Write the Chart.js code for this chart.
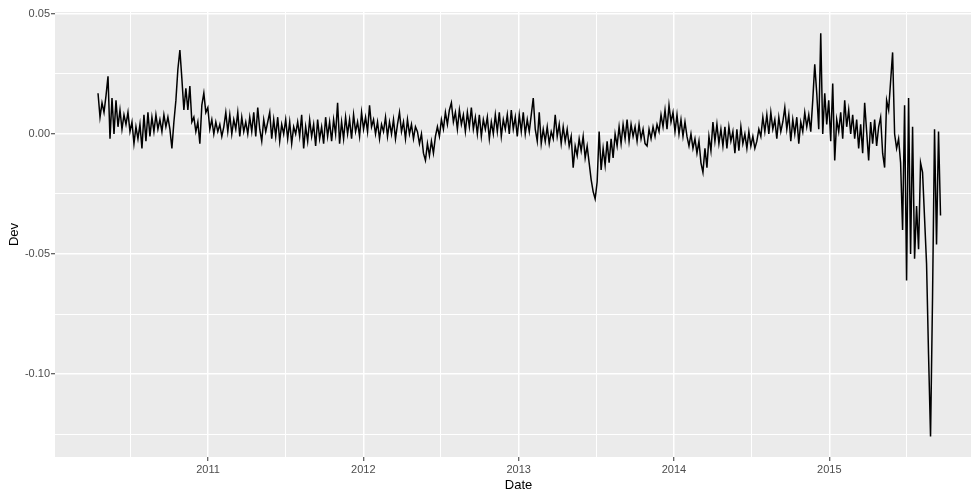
<!DOCTYPE html>
<html>
<head>
<meta charset="utf-8">
<title>Dev</title>
<script src="https://cdn.jsdelivr.net/npm/chart.js@4/dist/chart.umd.min.js"></script>
<style>
  html, body { margin: 0; padding: 0; background: #ffffff; overflow: hidden; }
  #wrap { width: 982px; height: 492px; }
</style>
</head>
<body>
<div id="wrap"><canvas id="chart" width="982" height="492"></canvas></div>
<script>
// Deviation series, sampled evenly between the first and last date (decimal years)
const firstDate = 2010.292;
const lastDate = 2015.716;

const dev = [
  0.017, 0.007, 0.013, 0.009, 0.016,   0.024, -0.002, 0.015, 0.000, 0.014,
  0.003, 0.010, 0.002, 0.008, 0.004,   0.009, 0.001, 0.005, -0.004, 0.003,
  -0.002, 0.004, -0.006, 0.008, -0.003, 0.009, -0.001, 0.007, 0.001, 0.008,
  0.002, 0.006, 0.001, 0.008, 0.003,   0.007, 0.002, -0.006, 0.005, 0.014,
  0.027, 0.035, 0.023, 0.010, 0.019,   0.010, 0.020, 0.005, 0.007, 0.001,
  0.005, -0.004, 0.012, 0.017, 0.009,  0.011, 0.002, 0.006, 0.000, 0.005,
  0.001, 0.004, -0.001, 0.003, 0.009,  0.001, 0.008, 0.000, 0.006, 0.002,
  0.009, -0.001, 0.007, 0.001, 0.005,  0.000, 0.007, 0.001, 0.009, -0.001,
  0.011, 0.002, -0.003, 0.006, 0.001,  0.005, 0.009, -0.002, 0.006, -0.001,
  0.007, -0.003, 0.004, 0.000, 0.006,  -0.002, 0.005, -0.004, 0.003, 0.000,
  0.005, -0.001, 0.008, -0.006, 0.003, -0.003, 0.006, -0.001, 0.004, -0.005,
  0.006, -0.002, 0.003, -0.004, 0.007, -0.001, 0.005, -0.003, 0.006, 0.000,
  0.013, -0.004, 0.005, -0.002, 0.007, 0.000, 0.006, -0.002, 0.008, 0.001,
  0.005, -0.001, 0.009, 0.002, 0.007,  0.001, 0.012, 0.003, 0.006, 0.000,
  0.005, -0.002, 0.004, 0.001, 0.007,  -0.001, 0.005, 0.000, 0.006, -0.002,
  0.004, 0.009, 0.001, 0.005, -0.002,  0.006, 0.000, 0.004, -0.002, 0.003,
  0.001, -0.004, 0.000, -0.008, -0.011, -0.004, -0.009, -0.003, -0.008, -0.001,
  0.003, -0.001, 0.006, 0.002, 0.009,  0.004, 0.010, 0.013, 0.005, 0.009,
  0.002, 0.010, 0.004, 0.008, 0.001,   0.009, 0.003, 0.011, 0.002, 0.007,
  0.000, 0.008, -0.001, 0.006, 0.002,  0.007, -0.002, 0.005, 0.000, 0.008,
  0.001, 0.009, -0.001, 0.006, 0.002,  0.008, 0.000, 0.010, 0.002, 0.007,
  -0.001, 0.008, 0.001, 0.009, 0.000,  0.006, 0.001, 0.008, 0.015, 0.002,
  -0.003, 0.009, -0.004, 0.002, -0.003, 0.003, -0.004, 0.001, -0.002, 0.008,
  -0.001, 0.004, -0.004, 0.003, -0.003, 0.002, -0.005, -0.001, -0.014, -0.005,
  -0.009, -0.002, -0.007, -0.001, -0.010, -0.005, -0.012, -0.019, -0.024, -0.027,
  -0.020, 0.001, -0.015, -0.006, -0.013, -0.003, -0.012, -0.002, -0.010, 0.000,
  -0.005, 0.003, -0.004, 0.004, -0.002, 0.006, -0.003, 0.004, -0.001, 0.003,
  -0.003, 0.004, -0.002, 0.002, -0.004, -0.005, 0.002, -0.002, 0.003, -0.001,
  0.004, 0.001, 0.008, 0.003, 0.010,   0.002, 0.012, 0.005, 0.009, 0.001,
  0.008, 0.000, 0.006, -0.001, 0.005,  -0.001, -0.005, 0.000, -0.006, -0.002,
  -0.008, -0.003, -0.012, -0.016, -0.006, -0.014, -0.001, -0.007, 0.005, -0.003,
  0.004, -0.004, 0.002, -0.005, 0.003, -0.006, 0.003, -0.003, 0.001, -0.008,
  0.002, -0.007, 0.003, -0.004, 0.000, -0.006, 0.001, -0.005, -0.001, -0.006,
  -0.003, 0.002, -0.001, 0.007, 0.001, 0.008, 0.000, 0.009, 0.002, 0.006,
  -0.002, 0.007, 0.001, 0.005, 0.011,  0.002, 0.008, -0.003, 0.006, 0.000,
  0.007, -0.004, 0.005, 0.001, 0.009,  0.003, 0.008, 0.001, 0.014, 0.029,
  0.017, 0.002, 0.042, 0.000, 0.017,   0.004, 0.014, -0.003, 0.021, -0.011,
  0.006, 0.001, 0.009, -0.002, 0.014,  0.003, 0.010, 0.000, 0.008, -0.002,
  0.006, -0.006, 0.004, -0.008, 0.013, 0.001, -0.011, 0.005, -0.004, 0.006,
  -0.005, 0.003, 0.007, -0.008, -0.014, 0.014, 0.010, 0.022, 0.034, 0.000,
  -0.006, -0.002, -0.012, -0.040, 0.012, -0.061, 0.015, -0.050, 0.003, -0.052,
  -0.030, -0.048, -0.012, -0.016, -0.035, -0.054, -0.092, -0.126, -0.068, 0.002,
  -0.046, 0.001, -0.034
];

const dates = dev.map((_, i) => firstDate + i * (lastDate - firstDate) / (dev.length - 1));

const yearTicks = [2011, 2012, 2013, 2014, 2015];
const devTicks = [-0.10, -0.05, 0.00, 0.05];

const xRange = { min: 2010.015, max: 2015.983 };
const yRange = { min: -0.13458, max: 0.05083 };

const isYearTick = v => yearTicks.some(t => Math.abs(t - v) < 1e-6);
const isDevTick = v => devTicks.some(t => Math.abs(t - v) < 1e-6);

const fontFamily = '"Liberation Sans", Arial, Helvetica, sans-serif';

// grey panel behind the grid
const panelBackground = {
  id: 'panelBackground',
  beforeDraw(chart) {
    const { ctx, chartArea: a } = chart;
    ctx.save();
    ctx.fillStyle = '#EBEBEB';
    ctx.fillRect(a.left, a.top, a.right - a.left, a.bottom - a.top);
    ctx.restore();
  }
};

new Chart(document.getElementById('chart'), {
  type: 'line',
  data: {
    datasets: [{
      data: dates.map((d, i) => ({ x: d, y: dev[i] })),
      borderColor: '#000000',
      borderWidth: 1.5,
      pointRadius: 0,
      tension: 0,
      fill: false
    }]
  },
  options: {
    responsive: false,
    animation: false,
    devicePixelRatio: 1,
    layout: { padding: { top: 12, right: 0, bottom: 0, left: 0 } },
    plugins: { legend: { display: false }, tooltip: { enabled: false } },
    scales: {
      x: {
        type: 'linear',
        min: xRange.min,
        max: xRange.max,
        afterFit(scale) { scale.height = 35; },
        border: { display: false },
        grid: {
          color: '#FFFFFF',
          lineWidth: ctx => (ctx.tick && isYearTick(ctx.tick.value)) ? 1.5 : 1,
          drawTicks: true,
          tickLength: 4,
          tickWidth: 1,
          tickColor: ctx => (ctx.tick && isYearTick(ctx.tick.value)) ? '#333333' : 'rgba(0,0,0,0)'
        },
        ticks: {
          stepSize: 0.5,
          maxTicksLimit: 100,
          includeBounds: false,
          autoSkip: false,
          maxRotation: 0,
          padding: 2,
          color: '#4D4D4D',
          font: { family: fontFamily, size: 11 },
          callback: v => isYearTick(v) ? String(Math.round(v)) : ''
        },
        title: {
          display: true,
          text: 'Date',
          color: '#000000',
          font: { family: fontFamily, size: 13, lineHeight: 1 },
          padding: { top: 0, bottom: 0 }
        }
      },
      y: {
        type: 'linear',
        min: yRange.min,
        max: yRange.max,
        afterFit(scale) { scale.width = 55; },
        border: { display: false },
        grid: {
          color: '#FFFFFF',
          lineWidth: ctx => (ctx.tick && isDevTick(ctx.tick.value)) ? 1.5 : 1,
          drawTicks: true,
          tickLength: 4,
          tickWidth: 1,
          tickColor: ctx => (ctx.tick && isDevTick(ctx.tick.value)) ? '#333333' : 'rgba(0,0,0,0)'
        },
        ticks: {
          stepSize: 0.025,
          maxTicksLimit: 100,
          includeBounds: false,
          autoSkip: false,
          padding: 1,
          color: '#4D4D4D',
          font: { family: fontFamily, size: 11 },
          callback: v => isDevTick(v) ? (Math.round(v * 100) / 100).toFixed(2) : ''
        },
        title: {
          display: true,
          text: 'Dev',
          color: '#000000',
          font: { family: fontFamily, size: 13, lineHeight: 1 },
          padding: { top: 8, bottom: 0 }
        }
      }
    }
  },
  plugins: [panelBackground]
});
</script>
</body>
</html>
